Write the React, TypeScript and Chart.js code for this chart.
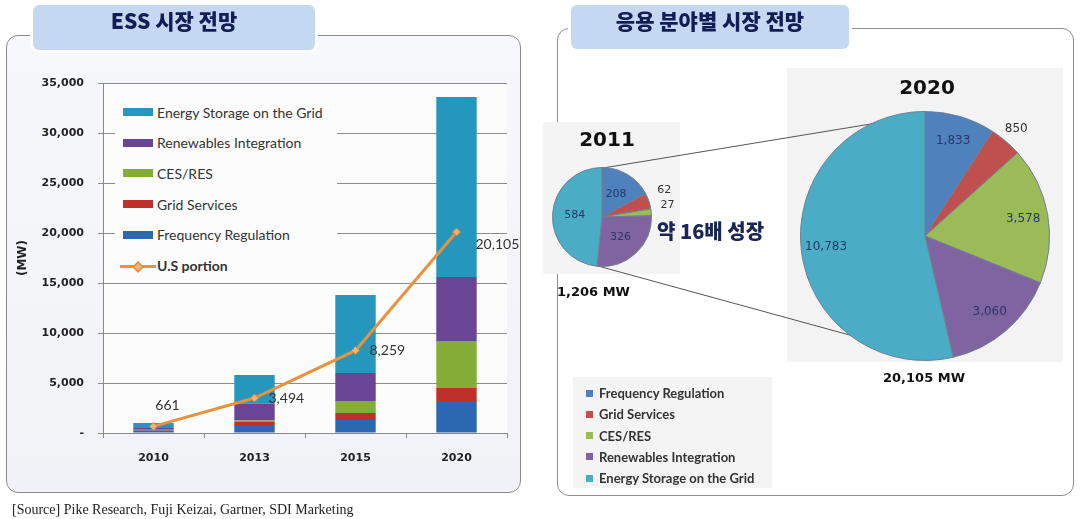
import React, { useEffect, useRef } from 'react';
import { Chart, registerables } from 'chart.js';

Chart.register(...registerables);

// ---------------- data ----------------
const years = ['2010', '2013', '2015', '2020'];
const frequencyRegulation = [250, 800, 1300, 3200];
const gridServices = [40, 300, 700, 1300];
const cesRes = [30, 150, 1200, 4700];
const renewablesIntegration = [180, 1700, 2800, 6400];
const energyStorageOnGrid = [500, 2850, 7800, 18000];
const usPortion = [661, 3494, 8259, 20105];
const yMax = 35000;
const yStep = 5000;

const seriesNames = [
  'Frequency Regulation',
  'Grid Services',
  'CES/RES',
  'Renewables Integration',
  'Energy Storage on the Grid',
];
const lineName = 'U.S portion';
const yAxisTitle = '(MW)';

const pieCategories = seriesNames;
const share2011 = [208, 62, 27, 326, 584];
const share2020 = [1833, 850, 3578, 3060, 10783];
const pieYear2011 = '2011';
const pieYear2020 = '2020';
const pieTotal2011 = '1,206 MW';
const pieTotal2020 = '20,105 MW';
const growthText = '약 16배 성장';
const titleLeft = 'ESS 시장 전망';
const titleRight = '응용 분야별 시장 전망';
const sourceText = '[Source] Pike Research, Fuji Keizai, Gartner, SDI Marketing';

// ---------------- styles ----------------
const barColors = ['#2c67b1', '#c0302b', '#83ad36', '#6a4596', '#2597bc'];
const pieColors = ['#4f81bd', '#c0504d', '#9bbb59', '#8064a2', '#4bacc6'];
const lineColor = '#e8923e';
const KR = '"Noto Sans CJK KR", "Noto Sans", sans-serif';

function BarChart() {
  const ref = useRef<HTMLCanvasElement>(null);
  useEffect(() => {
    const values = [frequencyRegulation, gridServices, cesRes, renewablesIntegration, energyStorageOnGrid];
    const bgPlugin = {
      id: 'plotBg',
      beforeDraw(chart: any) {
        const { ctx, chartArea: a } = chart;
        ctx.save();
        ctx.fillStyle = '#fcfcfd';
        ctx.fillRect(a.left, a.top, a.right - a.left, a.bottom - a.top);
        ctx.restore();
      },
    };
    const labelPlugin = {
      id: 'usLabels',
      afterDatasetsDraw(chart: any) {
        const meta = chart.getDatasetMeta(values.length);
        const ctx = chart.ctx;
        ctx.save();
        ctx.font = '14px Lato';
        ctx.fillStyle = '#333';
        ctx.textBaseline = 'middle';
        meta.data.forEach((pt: any, i: number) => {
          const text = usPortion[i].toLocaleString('en-US');
          if (i === 0) {
            ctx.textAlign = 'center';
            ctx.fillText(text, pt.x + 14, pt.y - 21);
          } else if (i === usPortion.length - 1) {
            ctx.textAlign = 'left';
            ctx.fillText(text, pt.x + 19, pt.y + 13);
          } else {
            ctx.textAlign = 'left';
            ctx.fillText(text, pt.x + 14, pt.y);
          }
        });
        ctx.restore();
      },
    };
    const tickFont = { family: '"DejaVu Sans", sans-serif', size: 11, weight: 'bold' as const };
    const chart = new Chart(ref.current!, {
      type: 'bar',
      data: {
        labels: years,
        datasets: [
          ...values.map((v, i) => ({
            type: 'bar' as const,
            label: seriesNames[i],
            data: v,
            backgroundColor: barColors[i],
            stack: 'ess',
            order: 1,
            barPercentage: 0.4,
            categoryPercentage: 1,
          })),
          {
            type: 'line' as const,
            label: lineName,
            data: usPortion,
            borderColor: lineColor,
            borderWidth: 3,
            pointStyle: 'rectRot',
            pointRadius: 4,
            pointBackgroundColor: '#f2b474',
            pointBorderColor: '#d9822b',
            pointBorderWidth: 1,
            stack: 'us',
            order: 0,
            tension: 0,
          },
        ],
      } as any,
      options: {
        responsive: false,
        animation: false,
        layout: { padding: { left: 0, top: 83, right: 23, bottom: 0 } },
        plugins: { legend: { display: false }, tooltip: { enabled: false } },
        scales: {
          x: {
            stacked: true,
            grid: { display: true, drawOnChartArea: false, tickLength: 5, color: '#888', offset: true },
            border: { color: '#888' },
            ticks: { padding: 14, color: '#222', font: tickFont },
            afterFit: (s: any) => { s.height = 47; },
          },
          y: {
            stacked: true,
            min: 0,
            max: yMax,
            ticks: {
              stepSize: yStep,
              padding: 14,
              color: '#222',
              font: tickFont,
              callback: (v: any) => (Number(v) === 0 ? '-' : Number(v).toLocaleString('en-US')),
            },
            grid: { color: '#8c8c8c', tickLength: 5 },
            border: { color: '#888' },
            title: {
              display: true,
              text: yAxisTitle,
              color: '#222',
              font: { family: '"DejaVu Sans", sans-serif', size: 12, weight: 'bold' },
              padding: { top: 16, bottom: 0 },
            },
            afterFit: (s: any) => { s.width = 103; },
          },
        },
      } as any,
      plugins: [bgPlugin, labelPlugin],
    });
    return () => chart.destroy();
  }, []);
  return <canvas ref={ref} width={530} height={480} style={{ position: 'absolute', left: 0, top: 0 }} />;
}

type PieProps = {
  values: number[];
  left: number;
  top: number;
  width: number;
  height: number;
  pad: { left: number; top: number; right: number; bottom: number };
  inside: number;
  outside: number;
  outsideDy: number;
  fontSize: number;
};

function PieChart(p: PieProps) {
  const ref = useRef<HTMLCanvasElement>(null);
  useEffect(() => {
    const total = p.values.reduce((a, b) => a + b, 0);
    const labelPlugin = {
      id: 'pieLabels',
      afterDatasetsDraw(chart: any) {
        const ctx = chart.ctx;
        const meta = chart.getDatasetMeta(0);
        ctx.save();
        ctx.font = `${p.fontSize}px "DejaVu Sans", sans-serif`;
        ctx.textAlign = 'center';
        ctx.textBaseline = 'middle';
        meta.data.forEach((arc: any, i: number) => {
          const { x, y, startAngle, endAngle, outerRadius } = arc.getProps(
            ['x', 'y', 'startAngle', 'endAngle', 'outerRadius'],
            true,
          );
          const mid = (startAngle + endAngle) / 2;
          const small = p.values[i] / total < 0.06;
          const r = outerRadius * (small ? p.outside : p.inside);
          ctx.fillStyle = small ? '#333' : '#26386a';
          ctx.fillText(
            p.values[i].toLocaleString('en-US'),
            x + Math.cos(mid) * r,
            y + Math.sin(mid) * r + (small ? p.outsideDy : 0),
          );
        });
        ctx.restore();
      },
    };
    const chart = new Chart(ref.current!, {
      type: 'pie',
      data: {
        labels: pieCategories,
        datasets: [
          {
            data: p.values,
            backgroundColor: pieColors,
            borderColor: '#6f7f92',
            borderWidth: 1,
          },
        ],
      },
      options: {
        responsive: false,
        animation: false,
        layout: { padding: p.pad },
        plugins: { legend: { display: false }, tooltip: { enabled: false } },
      } as any,
      plugins: [labelPlugin],
    });
    return () => chart.destroy();
  }, []);
  return (
    <canvas
      ref={ref}
      width={p.width}
      height={p.height}
      style={{ position: 'absolute', left: p.left, top: p.top }}
    />
  );
}

const abs = (s: React.CSSProperties): React.CSSProperties => ({ position: 'absolute', ...s });

export default function App() {
  useEffect(() => {
    document.body.style.margin = '0';
  }, []);
  const legendOrderLeft = [4, 3, 2, 1, 0];
  return (
    <div
      style={{
        position: 'absolute',
        left: 0,
        top: 0,
        width: 1082,
        height: 519,
        background: '#fff',
        overflow: 'hidden',
        fontFamily: '"DejaVu Sans", sans-serif',
      }}
    >
      {/* left panel */}
      <div
        style={abs({
          left: 6,
          top: 35,
          width: 513,
          height: 456,
          border: '1px solid #8a8a8a',
          borderRadius: 12,
          background: 'linear-gradient(#f7f8fb, #f1f2f7)',
        })}
      />
      <BarChart />
      {/* left legend */}
      <div style={abs({ left: 115, top: 90, width: 222, height: 190, background: '#fcfcfd' })} />
      {legendOrderLeft.map((si, k) => (
        <div
          key={si}
          style={abs({ left: 120, top: 112 - 10 + k * 30.7, height: 20, display: 'flex', alignItems: 'center' })}
        >
          <div style={{ width: 30, height: 8, marginLeft: 3, background: barColors[si] }} />
          <span style={{ marginLeft: 4, font: '14px Lato', color: '#333', whiteSpace: 'nowrap' }}>
            {seriesNames[si]}
          </span>
        </div>
      ))}
      <div style={abs({ left: 120, top: 112 - 10 + 5 * 30.7, height: 20, display: 'flex', alignItems: 'center' })}>
        <div style={{ position: 'relative', width: 36, height: 20 }}>
          <div style={abs({ left: 0, top: 9, width: 36, height: 3, background: lineColor })} />
          <div
            style={abs({
              left: 14,
              top: 7,
              width: 6,
              height: 6,
              background: '#f2b474',
              border: '1px solid #d9822b',
              transform: 'rotate(45deg)',
            })}
          />
        </div>
        <span style={{ marginLeft: 1, font: 'bold 14px Lato', color: '#333', whiteSpace: 'nowrap' }}>{lineName}</span>
      </div>

      {/* right panel */}
      <div
        style={abs({
          left: 557,
          top: 28,
          width: 515,
          height: 466,
          border: '1px solid #8f8f8f',
          borderRadius: 12,
          background: '#fff',
        })}
      />
      <div style={abs({ left: 543, top: 122, width: 137, height: 152, background: '#f4f4f4' })} />
      <div style={abs({ left: 787, top: 68, width: 276, height: 294, background: '#f3f3f3' })} />
      <svg width={1082} height={519} style={abs({ left: 0, top: 0 })}>
        <line x1={603} y1={168} x2={883} y2={122} stroke="#555" strokeWidth={1} />
        <line x1={598} y1={266} x2={875} y2={342} stroke="#555" strokeWidth={1} />
      </svg>
      <PieChart
        values={share2011}
        left={540}
        top={160}
        width={150}
        height={115}
        pad={{ left: 12, top: 7, right: 38, bottom: 8 }}
        inside={0.55}
        outside={1.33}
        outsideDy={-6}
        fontSize={11}
      />
      <PieChart
        values={share2020}
        left={780}
        top={100}
        width={290}
        height={270}
        pad={{ left: 20, top: 11, right: 20, bottom: 9 }}
        inside={0.8}
        outside={1.13}
        outsideDy={0}
        fontSize={12}
      />
      <div style={abs({ left: 547, top: 127, width: 120, textAlign: 'center', font: 'bold 20px "DejaVu Sans"', lineHeight: '24px', color: '#111' })}>
        {pieYear2011}
      </div>
      <div style={abs({ left: 867, top: 75, width: 120, textAlign: 'center', font: 'bold 20px "DejaVu Sans"', lineHeight: '24px', color: '#111' })}>
        {pieYear2020}
      </div>
      <div style={abs({ left: 557, top: 284, font: 'bold 13px "DejaVu Sans"', lineHeight: '16px', color: '#111', whiteSpace: 'nowrap' })}>
        {pieTotal2011}
      </div>
      <div style={abs({ left: 844, top: 370, width: 160, textAlign: 'center', font: 'bold 13px "DejaVu Sans"', lineHeight: '16px', color: '#111' })}>
        {pieTotal2020}
      </div>
      <div style={abs({ left: 657, top: 218, font: `900 20px ${KR}`, lineHeight: '26px', color: '#1a2656', whiteSpace: 'nowrap' })}>
        {growthText}
      </div>
      {/* pie legend */}
      <div style={abs({ left: 573, top: 377, width: 199, height: 111, background: '#f4f4f4' })} />
      {pieCategories.map((name, i) => (
        <div
          key={name}
          style={abs({ left: 586, top: 393 - 10 + i * 21.25, height: 20, display: 'flex', alignItems: 'center' })}
        >
          <div style={{ width: 7, height: 7, background: pieColors[i] }} />
          <span style={{ marginLeft: 6, font: 'bold 13px Lato', color: '#333', whiteSpace: 'nowrap' }}>{name}</span>
        </div>
      ))}

      {/* title tabs */}
      <div
        style={abs({
          left: 33,
          top: 5,
          width: 282,
          height: 45,
          background: '#c5d8f1',
          borderRadius: 6,
          boxShadow: '0 0 0 3px #fff',
          textAlign: 'center',
          lineHeight: '45px',
          font: `900 21px ${KR}`,
          color: '#121d55',
        })}
      >
        {titleLeft}
      </div>
      <div
        style={abs({
          left: 571,
          top: 5,
          width: 278,
          height: 44,
          background: '#c5d8f1',
          borderRadius: 6,
          boxShadow: '0 0 0 3px #fff',
          textAlign: 'center',
          lineHeight: '44px',
          font: `900 21px ${KR}`,
          color: '#121d55',
        })}
      >
        {titleRight}
      </div>

      <div style={abs({ left: 12, top: 502, font: '14px "Liberation Serif", serif', color: '#222', whiteSpace: 'nowrap' })}>
        {sourceText}
      </div>
    </div>
  );
}
